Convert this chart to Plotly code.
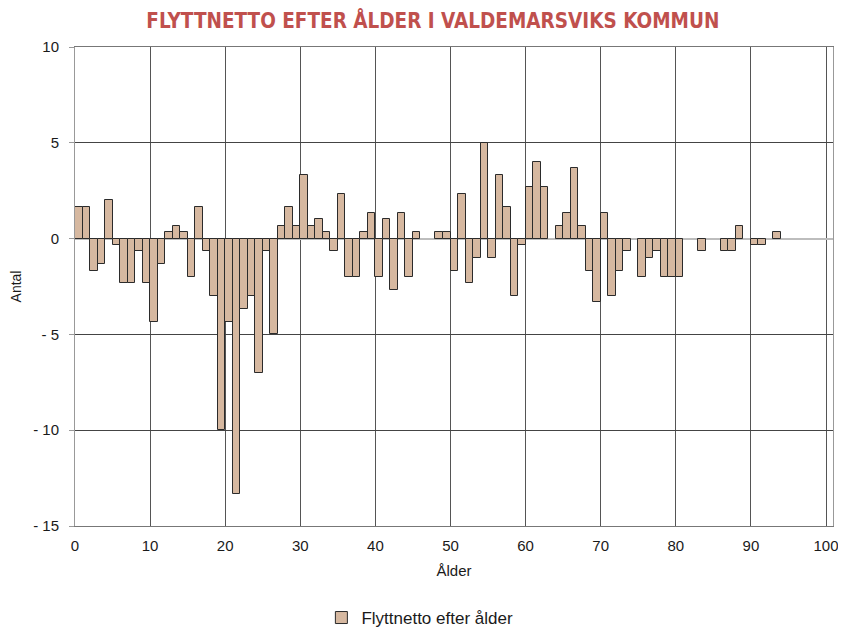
import plotly.graph_objects as go

ages = list(range(0, 94))
netto = [1.67, 1.67, -1.67, -1.33, 2, -0.33, -2.33, -2.33, -0.67, -2.33,
         -4.33, -1.33, 0.33, 0.67, 0.33, -2, 1.67, -0.67, -3, -10,
         -4.33, -13.33, -3.67, -3, -7, -0.67, -5, 0.67, 1.67, 0.67,
         3.33, 0.67, 1, 0.33, -0.67, 2.33, -2, -2, 0.33, 1.33,
         -2, 1, -2.67, 1.33, -2, 0.33, None, None, 0.33, 0.33,
         -1.67, 2.33, -2.33, -1, 5, -1, 3.33, 1.67, -3, -0.33,
         2.67, 4, 2.67, None, 0.67, 1.33, 3.67, 0.67, -1.67, -3.33,
         1.33, -3, -1.67, -0.67, None, -2, -1, -0.67, -2, -2,
         -2, None, None, -0.67, None, None, -0.67, -0.67, 0.67, None,
         -0.33, -0.33, None, 0.33]

y_ticks = [10, 5, 0, -5, -10, -15]
y_labels = ["10", "5", "0", "- 5", "- 10", "- 15"]
x_ticks = list(range(0, 101, 10))

fig = go.Figure()
fig.add_trace(go.Bar(
    x=[a + 0.5 for a in ages], y=netto, width=1,
    name="Flyttnetto efter ålder",
    marker=dict(color="#d6b8a0", line=dict(color="#2b2b2b", width=1)),
))

# page body has an 8px default margin, so the figure is sized 8px smaller
fig.update_layout(
    width=838, height=623,
    margin=dict(l=67, r=13, t=39, b=105, autoexpand=False),
    plot_bgcolor="white", paper_bgcolor="white",
    font=dict(family="Liberation Sans", size=15, color="#1a1a1a"),
    title=dict(text="<b>FLYTTNETTO EFTER ÅLDER I VALDEMARSVIKS KOMMUN</b>",
               x=0.507, xanchor="center", y=0.979, yanchor="middle",
               font=dict(family="DejaVu Sans Condensed", size=20.5, color="#c0504d")),
    showlegend=True,
    legend=dict(orientation="h", x=0.455, xanchor="center", y=-0.192, yanchor="middle",
                font=dict(size=17)),
    bargap=0,
)
fig.update_xaxes(range=[0, 100.93], tickvals=x_ticks, showgrid=True, gridcolor="#555",
                 gridwidth=1, zeroline=False, showline=True, mirror=True,
                 linecolor="#777", linewidth=1, ticks="", automargin=False,
                 ticklabelstandoff=6,
                 title=dict(text="Ålder", standoff=12, font=dict(size=15)),
                 tickfont=dict(size=15))
fig.update_yaxes(range=[-15, 10], tickvals=y_ticks, ticktext=y_labels, showgrid=True,
                 gridcolor="#444", gridwidth=1, zeroline=True, zerolinecolor="#bdbdbd",
                 zerolinewidth=2, showline=True, mirror=True, linecolor="#999", linewidth=1,
                 ticks="outside", ticklen=5, tickcolor="#999", automargin=False,
                 ticklabelstandoff=7,
                 title=dict(text="Antal", standoff=10, font=dict(size=14)),
                 tickfont=dict(size=15))

fig.write_html("out.html")
